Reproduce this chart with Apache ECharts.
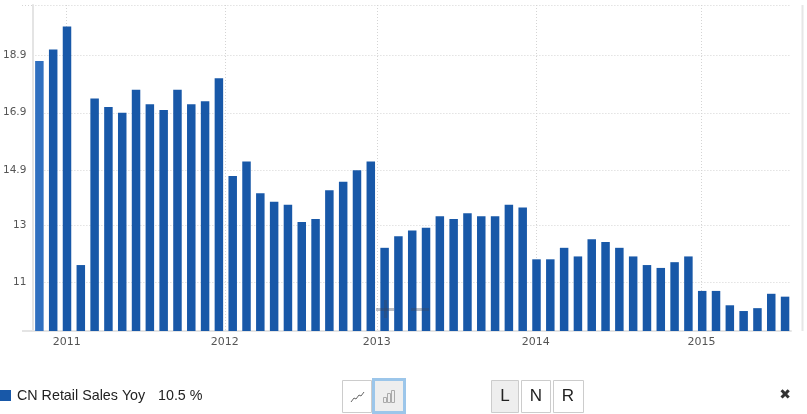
<!DOCTYPE html>
<html>
<head>
<meta charset="utf-8">
<title>CN Retail Sales Yoy</title>
<script src="https://cdn.jsdelivr.net/npm/echarts@6/dist/echarts.min.js"></script>
<style>
html, body { margin: 0; padding: 0; background: #fff; }
#chart { width: 807px; height: 414px; }
</style>
</head>
<body>
<div id="chart"></div>
<script>
// one bar per reading, oldest first
const salesYoy = [
  18.7, 19.1, 19.9, 11.6, 17.4, 17.1, 16.9, 17.7, 17.2, 17.0, 17.7, 17.2, 17.3, 18.1,
  14.7, 15.2, 14.1, 13.8, 13.7, 13.1, 13.2, 14.2, 14.5, 14.9, 15.2,
  12.2, 12.6, 12.8, 12.9, 13.3, 13.2, 13.4, 13.3, 13.3, 13.7, 13.6,
  11.8, 11.8, 12.2, 11.9, 12.5, 12.4, 12.2, 11.9, 11.6, 11.5, 11.7, 11.9,
  10.7, 10.7, 10.2, 10.0, 10.1, 10.6, 10.5
]
const yearLabels = ['2011', '2012', '2013', '2014', '2015']
const yearPositions = [1.976, 13.43, 24.44, 35.95, 47.94]
const yTicks = [11, 13, 14.9, 16.9, 18.9]
const yMin = 9.305
const yMax = 20.65

const gridColor = '#d4d4d4'
const barColor = '#1858a8'
const labelColor = '#555555'

function button(x, y, w, h, active) {
  return {
    type: 'rect',
    shape: { x: x + 0.5, y: y + 0.5, width: w, height: h },
    style: { fill: active ? '#eeeeee' : '#ffffff', stroke: '#cccccc', lineWidth: 1 },
    silent: true
  }
}

function buttonText(text, x) {
  return {
    type: 'text',
    style: {
      text: text, x: x, y: 396, align: 'center', verticalAlign: 'middle',
      font: '17px "Liberation Sans"', fill: '#222222'
    },
    silent: true
  }
}

const chart = echarts.init(document.getElementById('chart'))

chart.setOption({
  animation: false,
  backgroundColor: '#ffffff',
  grid: { left: 32, right: 16, top: 5, bottom: 83 },
  xAxis: {
    type: 'value',
    min: -0.507,
    max: 54.43,
    axisLine: { show: true, onZero: false, lineStyle: { color: '#e4e4e4', width: 2 } },
    axisTick: { show: false, customValues: yearPositions },
    axisLabel: {
      customValues: yearPositions,
      margin: 6,
      color: labelColor,
      fontFamily: 'DejaVu Sans',
      fontSize: 11,
      hideOverlap: false,
      showMinLabel: true,
      showMaxLabel: true,
      formatter: v => yearLabels[yearPositions.indexOf(v)]
    },
    splitLine: { show: true, lineStyle: { color: gridColor, type: [1, 2] } }
  },
  yAxis: {
    type: 'value',
    min: yMin,
    max: yMax,
    axisLine: { show: true, onZero: false, lineStyle: { color: '#e4e4e4', width: 2 } },
    axisTick: { show: false, customValues: yTicks.concat([yMax]) },
    axisLabel: {
      customValues: yTicks,
      margin: 6,
      color: labelColor,
      fontFamily: 'DejaVu Sans',
      fontSize: 10.5,
      verticalAlignMinLabel: 'middle',
      formatter: v => String(v)
    },
    splitLine: { show: true, lineStyle: { color: gridColor, type: [1, 2] } }
  },
  series: [
    {
      name: 'CN Retail Sales Yoy',
      type: 'bar',
      barWidth: 8.5,
      // first bar is drawn in its hover colour in the original
      itemStyle: { color: p => (p.dataIndex === 0 ? '#3070c0' : barColor) },
      data: salesYoy.map((v, i) => [i, v])
    }
  ],
  graphic: [
    // axis stub and right hand border
    { type: 'line', shape: { x1: 22, y1: 331, x2: 32, y2: 331 }, style: { stroke: '#e4e4e4', lineWidth: 2 }, silent: true },
    { type: 'line', shape: { x1: 22, y1: 5.5, x2: 32, y2: 5.5 }, style: { stroke: gridColor, lineWidth: 1, lineDash: [1, 2] }, silent: true },
    { type: 'line', shape: { x1: 802.5, y1: 5, x2: 802.5, y2: 331 }, style: { stroke: '#e6e6e6', lineWidth: 2 }, silent: true },

    // zoom handles over the bars
    { type: 'rect', shape: { x: 376, y: 308, width: 18, height: 3 }, style: { fill: 'rgba(60,70,90,0.35)' }, silent: true, z: 10 },
    { type: 'rect', shape: { x: 384, y: 300, width: 3, height: 18 }, style: { fill: 'rgba(60,70,90,0.35)' }, silent: true, z: 10 },
    { type: 'rect', shape: { x: 411, y: 308, width: 18, height: 3 }, style: { fill: 'rgba(60,70,90,0.35)' }, silent: true, z: 10 },

    // legend
    { type: 'rect', shape: { x: 0, y: 390, width: 11, height: 11 }, style: { fill: barColor }, silent: true },
    {
      type: 'text',
      style: { text: 'CN Retail Sales Yoy', x: 17, y: 396, verticalAlign: 'middle', font: '14.3px "Liberation Sans"', fill: '#222222' },
      silent: true
    },
    {
      type: 'text',
      style: { text: '10.5 %', x: 158, y: 396, verticalAlign: 'middle', font: '14.3px "Liberation Sans"', fill: '#222222' },
      silent: true
    },

    // chart type buttons
    button(342, 380, 29, 32, false),
    {
      type: 'polyline',
      shape: { points: [[351, 402], [354, 398], [356, 399], [359, 395], [361, 396], [364, 392]] },
      style: { stroke: '#666666', lineWidth: 1, fill: null },
      silent: true
    },
    {
      type: 'rect',
      shape: { x: 373.5, y: 379.5, width: 31, height: 33 },
      style: { fill: '#eeeeee', stroke: '#9cc6ea', lineWidth: 3 },
      silent: true
    },
    { type: 'rect', shape: { x: 383.5, y: 397.5, width: 3, height: 5 }, style: { fill: 'none', stroke: '#aaaaaa' }, silent: true },
    { type: 'rect', shape: { x: 387.5, y: 393.5, width: 3, height: 9 }, style: { fill: 'none', stroke: '#aaaaaa' }, silent: true },
    { type: 'rect', shape: { x: 391.5, y: 390.5, width: 3, height: 12 }, style: { fill: 'none', stroke: '#aaaaaa' }, silent: true },

    // scale buttons
    button(491, 380, 27, 32, true),
    button(521, 380, 29, 32, false),
    button(553, 380, 30, 32, false),
    buttonText('L', 505),
    buttonText('N', 536),
    buttonText('R', 568),

    // close
    {
      type: 'text',
      style: {
        text: '\u2716', x: 785, y: 395, align: 'center', verticalAlign: 'middle',
        font: '14px "DejaVu Sans"', fill: '#333333'
      },
      silent: true
    }
  ]
})
</script>
</body>
</html>
